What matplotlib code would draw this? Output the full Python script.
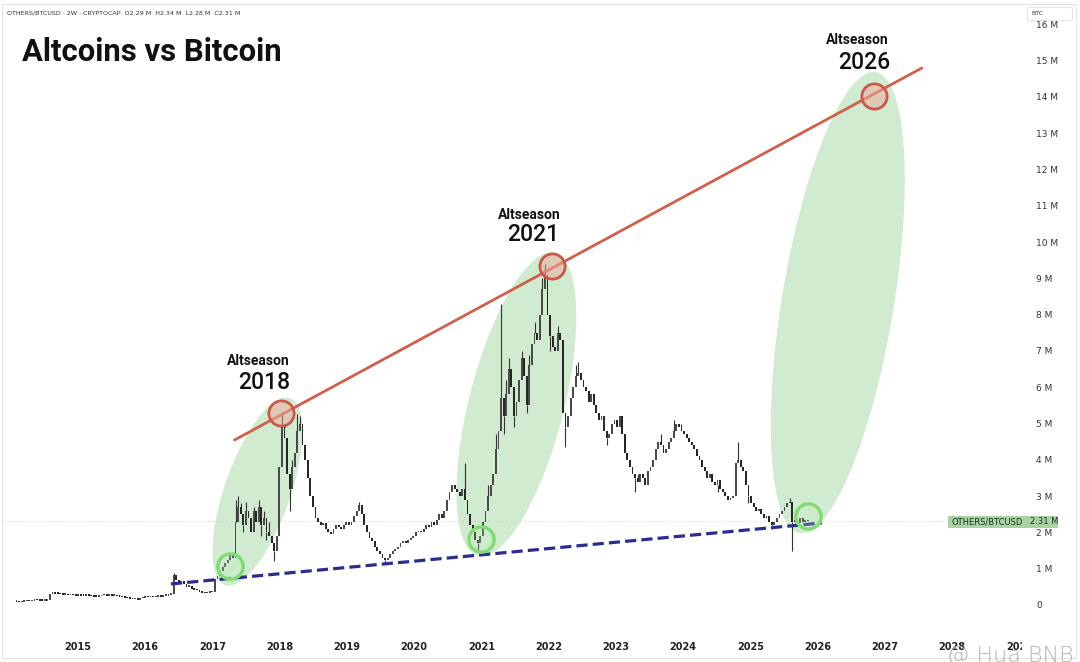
import numpy as np
import pandas as pd
import matplotlib
matplotlib.use("Agg")
import matplotlib.pyplot as plt
import matplotlib.dates as mdates
from matplotlib.patches import Ellipse, Rectangle
from matplotlib.transforms import IdentityTransform, Bbox, TransformedBbox

# ---------------- data (values in millions) ----------------
start_date = "2014-02-01"
closes = [
    0.08,0.07,0.08,0.10,0.11,0.10,0.12,0.14,0.13,0.12,0.11,0.12,0.13,
    0.30,0.33,0.31,0.30,0.29,0.28,0.28,0.27,0.28,0.27,0.26,0.27,0.26,
    0.25,0.26,0.25,0.24,0.23,0.22,0.24,0.28,0.27,0.26,0.26,0.25,0.25,
    0.24,0.23,0.21,0.19,0.18,0.17,0.16,0.16,0.15,0.18,0.20,0.22,0.21,
    0.22,0.21,0.23,0.24,0.22,0.25,0.26,0.28,0.30,0.82,0.70,0.62,0.66,
    0.58,0.50,0.52,0.45,0.42,0.40,0.36,0.34,0.32,0.33,0.35,0.36,0.72,
    0.80,0.95,1.05,1.15,1.25,1.40,1.30,2.30,2.70,2.50,2.20,2.60,2.40,
    2.0,2.6,2.3,2.7,2.2,2.4,2.0,1.9,1.7,1.5,1.9,3.8,4.9,
    4.6,3.6,3.2,3.8,4.2,4.8,5.0,4.4,4.0,3.5,3.0,2.7,2.4,
    2.3,2.2,2.25,2.1,2.0,1.95,2.1,2.2,2.15,2.1,2.2,2.3,2.2,
    2.3,2.45,2.6,2.75,2.5,2.2,2.0,1.85,1.75,1.6,1.5,1.4,1.3,
    1.25,1.3,1.4,1.5,1.55,1.6,1.7,1.75,1.7,1.8,1.85,1.9,2.0,
    2.05,2.0,2.1,2.2,2.15,2.3,2.2,2.35,2.5,2.4,2.6,2.9,3.1,
    3.3,3.2,3.1,3.0,3.2,2.9,2.5,2.2,2.0,1.8,1.7,1.9,2.3,
    2.6,3.0,3.3,3.6,4.3,4.8,5.7,5.2,5.8,6.5,6.0,5.2,5.6,
    6.2,6.8,6.3,5.5,6.6,7.2,7.5,7.3,8.0,8.7,9.1,8.0,7.4,
    7.1,7.0,7.5,7.3,5.3,4.9,5.2,5.7,6.0,6.3,6.4,6.2,6.0,
    5.9,5.6,5.8,5.5,5.3,5.1,5.2,4.8,4.6,4.7,5.0,5.1,4.9,
    5.2,4.7,4.2,4.0,3.8,3.6,3.5,3.4,3.6,3.5,3.3,3.7,3.8,
    4.0,4.3,4.5,4.4,4.2,4.3,4.5,4.6,4.8,5.0,4.9,4.8,4.7,
    4.6,4.5,4.4,4.3,4.1,4.0,3.8,3.7,3.5,3.6,3.4,3.3,3.45,
    3.2,3.1,3.0,2.9,2.95,3.0,3.9,4.0,3.8,3.7,3.3,3.0,2.8,
    2.7,2.6,2.65,2.5,2.4,2.45,2.3,2.2,2.3,2.4,2.5,2.6,2.7,
    2.8,2.85,2.3,2.35,2.25,2.4,2.3,2.35,2.31,
]
wick_hi = {61: 0.88, 85: 2.9, 86: 3.0, 87: 2.8, 89: 2.85, 92: 2.7, 94: 2.9,
           96: 2.6, 98: 2.3, 103: 5.3, 104: 5.0, 107: 4.0, 109: 5.25, 110: 5.2,
           133: 2.85, 174: 3.9, 183: 3.3, 186: 4.7, 188: 8.3, 190: 6.2, 191: 6.8,
           196: 7.0, 199: 6.9, 201: 7.8, 204: 9.0, 205: 9.4, 210: 7.7, 217: 6.6,
           218: 6.7, 228: 4.9, 241: 3.6, 250: 4.7, 255: 5.1, 258: 5.0, 280: 4.5,
           300: 2.95}
wick_lo = {88: 2.0, 95: 1.9, 97: 1.8, 100: 1.2, 106: 2.6, 143: 1.15, 179: 1.5,
           189: 4.7, 193: 4.9, 198: 5.3, 207: 7.0, 213: 4.35, 229: 4.4, 240: 3.1,
           272: 3.1, 284: 2.8, 293: 2.1, 301: 1.5}

last_price = 2.31
year_ticks = list(range(2015, 2030))
price_ticks = list(range(0, 17))

# annotation anchors (date, value in M)
peak_circles = [("2018-01-08", 5.29), ("2022-01-18", 9.34), ("2026-11-01", 14.02)]
low_circles = [("2017-04-05", 1.07), ("2020-12-28", 1.82), ("2025-11-08", 2.45)]
peak_labels = ["2018", "2021", "2026"]
label_offsets = [((-23, 52), (-17, 30)), ((-23, 51), (-19, 31)), ((-16, 56), (-9, 34))]
resist_line = [("2017-05-02", 4.55), ("2027-07-19", 14.79)]
support_line = [("2016-05-20", 0.58), ("2026-01-23", 2.26)]
ellipses = [(("2017-03-10", 0.55), ("2018-02-25", 5.70), 66),
            (("2020-12-13", 1.35), ("2022-02-03", 9.70), 95),
            (("2025-09-26", 1.98), ("2026-11-12", 14.68), 112)]

# ---------------- figure ----------------
W, H = 1080, 662
fig = plt.figure(figsize=(W / 100, H / 100), dpi=100)
fig.patch.set_facecolor("white")
ax = fig.add_axes([3 / W, 30 / H, (1022 - 3) / W, (632 - 5) / H])
ax.set_facecolor("white")
for s in ax.spines.values():
    s.set_visible(False)

def yr2date(y):
    yi = int(np.floor(y))
    d0 = pd.Timestamp(f"{yi}-01-01")
    d1 = pd.Timestamp(f"{yi+1}-01-01")
    return d0 + (d1 - d0) * (y - yi)

ax.set_xlim(yr2date(2013.885), yr2date(2029.037))
ax.set_ylim(-0.744, 16.53)

dates = pd.date_range(start_date, periods=len(closes), freq="14D")
c = np.array(closes)
o = np.concatenate([[closes[0]], c[:-1]])
up = c >= o
body_lo = np.minimum(o, c)
body_h = np.maximum(np.abs(c - o), 0.045)
ax.bar(dates[up], body_h[up], bottom=body_lo[up], width=10, color="#4a4a4a",
       linewidth=0, zorder=3)
ax.bar(dates[~up], body_h[~up], bottom=body_lo[~up], width=10, color="#262626",
       linewidth=0, zorder=3)
for i, hv in wick_hi.items():
    ax.vlines(dates[i], max(o[i], c[i]), hv, color="#333333", lw=0.8, zorder=3)
for i, lv in wick_lo.items():
    ax.vlines(dates[i], lv, min(o[i], c[i]), color="#333333", lw=0.8, zorder=3)

# last price line
ax.axhline(last_price, color="#dfe6df", lw=0.8, ls=(0, (2, 2)), zorder=1)

# ellipses (drawn in pixel space, anchored to data points)
fig.canvas.draw()
for (b, t, minor) in ellipses:
    pb = ax.transData.transform((mdates.date2num(pd.Timestamp(b[0])), b[1]))
    pt = ax.transData.transform((mdates.date2num(pd.Timestamp(t[0])), t[1]))
    ctr = (pb + pt) / 2
    d = pt - pb
    length = np.hypot(*d)
    ang = np.degrees(np.arctan2(d[1], d[0]))
    e = Ellipse(ctr, length, minor, angle=ang, transform=IdentityTransform(),
                facecolor="#9bd49b", alpha=0.45, edgecolor="none", zorder=2)
    ax.add_artist(e)

# support line
sx = [pd.Timestamp(p[0]) for p in support_line]
sy = [p[1] for p in support_line]
ax.plot(sx, sy, color="#2c2c8c", lw=2.3, ls=(0, (3.5, 1.6)), zorder=4,
        solid_capstyle="butt")
# resistance line
rx = [pd.Timestamp(p[0]) for p in resist_line]
ry = [p[1] for p in resist_line]
ax.plot(rx, ry, color="#d0604e", lw=2.0, zorder=4)

# circles
for (dt, v) in peak_circles:
    ax.scatter([pd.Timestamp(dt)], [v], s=330, marker="o", facecolor=(0.94, 0.66, 0.60, 0.5),
               edgecolor="#c75a4a", linewidth=2.0, zorder=5)
for (dt, v) in low_circles:
    ax.scatter([pd.Timestamp(dt)], [v], s=330, marker="o", facecolor=(0.75, 0.92, 0.73, 0.25),
               edgecolor="#80dc72", linewidth=2.4, zorder=5)

# Altseason labels
for (dt, v), lab, (off1, off2) in zip(peak_circles, peak_labels, label_offsets):
    ax.annotate("Altseason", (pd.Timestamp(dt), v), xytext=off1,
                textcoords="offset pixels", ha="center", va="center",
                fontsize=10, fontweight="bold", family="Roboto", color="#111111", zorder=6)
    ax.annotate(lab, (pd.Timestamp(dt), v), xytext=off2,
                textcoords="offset pixels", ha="center", va="center",
                fontsize=16.5, fontweight="medium", family="Roboto", color="#111111", zorder=6)

# axes ticks
ax.set_xticks([pd.Timestamp(f"{y}-01-01") for y in year_ticks])
ax.set_xticklabels([str(y) for y in year_ticks])
ax.tick_params(axis="x", length=0, pad=7, labelsize=7, labelcolor="#222222")
for lab in ax.get_xticklabels():
    lab.set_fontweight("bold")
    lab.set_clip_on(True)
    lab.set_clip_box(TransformedBbox(Bbox([[0, -0.2], [1, 1]]), ax.transAxes))

ax.yaxis.tick_right()
ax.set_yticks(price_ticks)
ax.set_yticklabels(["0"] + [f"{v} M" for v in price_ticks[1:]])
ax.tick_params(axis="y", length=0, pad=10, labelsize=6.5, labelcolor="#333333")
for lab in ax.get_yticklabels():
    lab.set_horizontalalignment("left")

# frame
fig.add_artist(Rectangle((2 / W, 4 / H), 1074 / W, 654 / H, transform=fig.transFigure,
                         fill=False, edgecolor="#e4e4e4", lw=0.8))

# header
fig.text(7 / W, 1 - 13 / H, "OTHERS/BTCUSD · 2W · CRYPTOCAP  O2.29 M  H2.34 M  L2.28 M  C2.31 M",
         fontsize=4.6, color="#333333", va="center", ha="left")
fig.text(22 / W, 1 - 52 / H, "Altcoins vs Bitcoin", fontsize=22.3, fontweight="bold",
         family="Roboto", color="#111111", va="center", ha="left")

# BTC box
fig.add_artist(Rectangle((1027 / W, 1 - 20 / H), 45 / W, 13 / H, transform=fig.transFigure,
                         facecolor="white", edgecolor="#e6e6e6", lw=0.8, zorder=10))
fig.text(1031 / W, 1 - 13.5 / H, "BTC", fontsize=4.5, color="#333333", va="center",
         ha="left", zorder=11)

# last price label
fig.add_artist(Rectangle((948 / W, 1 - 528 / H), 110 / W, 12 / H, transform=fig.transFigure,
                         facecolor="#a9d3a5", edgecolor="none", zorder=10))
fig.text(951 / W, 1 - 522 / H, "OTHERS/BTCUSD", fontsize=6, color="#1f2f1f", va="center",
         ha="left", zorder=11)
fig.text(1030 / W, 1 - 522 / H, f"{last_price:.2f} M", fontsize=6, color="#1f2f1f",
         va="center", ha="left", zorder=11)

# watermark
fig.text(947 / W, 1 - 646 / H, "@ Hua BNB", fontsize=16, color="#b5b5b5", va="top",
         ha="left", family="DejaVu Sans", fontweight="light", zorder=12)

fig.savefig("out.png", dpi=100, facecolor="white")
